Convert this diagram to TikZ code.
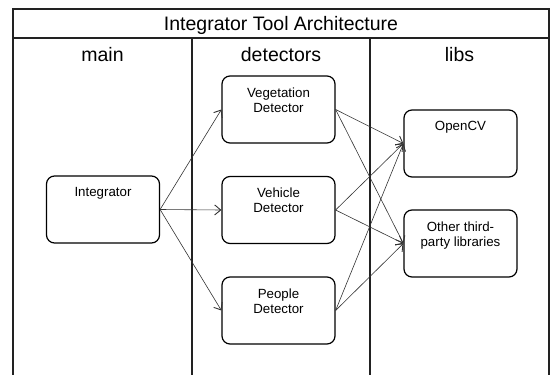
\documentclass[tikz,border=0pt]{standalone}
\usepackage{fontspec}
\setmainfont{Liberation Sans}
\usetikzlibrary{arrows.meta}
\definecolor{frameline}{HTML}{222222}
\definecolor{linkline}{HTML}{333333}
\begin{document}
\begin{tikzpicture}[x=1pt,y=-1pt,
  comp/.style={draw=black, line width=1.2pt, rounded corners=8pt,
    minimum width=113pt, minimum height=67pt, inner sep=0pt},
  comptext/.style={font=\fontsize{13.3}{15}\selectfont, align=center, anchor=north, inner sep=0pt},
  link/.style={draw=linkline, line width=0.6pt, -{Straight Barb[length=6pt,width=10pt,line width=0.9pt]}},
  lane/.style={draw=frameline, line width=1.4pt},
  heading/.style={font=\fontsize{19.5}{22}\selectfont, anchor=base, inner sep=0pt}]
\useasboundingbox (0,0) rectangle (550,375);

% swimlane frame
\draw[lane] (13,380) -- (13,9) -- (549,9) -- (549,380);
\draw[lane] (13,38) -- (549,38);
\draw[lane] (192,38) -- (192,380);
\draw[lane] (370,38) -- (370,380);

\node[heading] (title) at (281,30.7) {Integrator Tool Architecture};
\node[heading] (hmain) at (102.5,61.5) {main};
\node[heading] (hdet) at (281,61.5) {detectors};
\node[heading] (hlibs) at (459.5,61.5) {libs};

% components
\node[comp] (integ) at (103,209.5) {};
\node[comp] (veg) at (278.5,109.5) {};
\node[comp] (veh) at (278.5,210) {};
\node[comp] (ppl) at (278.5,310.5) {};
\node[comp] (ocv) at (460.5,143.5) {};
\node[comp] (oth) at (460.5,243.5) {};

\node[comptext] (tinteg) at ([yshift=-12pt]integ.north) {Integrator};
\node[comptext] (tveg) at ([yshift=-12pt]veg.north) {Vegetation\\Detector};
\node[comptext] (tveh) at ([yshift=-12pt]veh.north) {Vehicle\\Detector};
\node[comptext] (tppl) at ([yshift=-12pt]ppl.north) {People\\Detector};
\node[comptext] (tocv) at ([yshift=-12pt]ocv.north) {OpenCV};
\node[comptext] (toth) at ([yshift=-12pt]oth.north) {Other third-\\party libraries};

% dependencies
\draw[link] (integ.east) -- (veg.west);
\draw[link] (integ.east) -- (veh.west);
\draw[link] (integ.east) -- (ppl.west);
\foreach \d in {veg,veh,ppl}{
  \draw[link] (\d.east) -- (ocv.west);
  \draw[link] (\d.east) -- (oth.west);
}
\end{tikzpicture}
\end{document}
